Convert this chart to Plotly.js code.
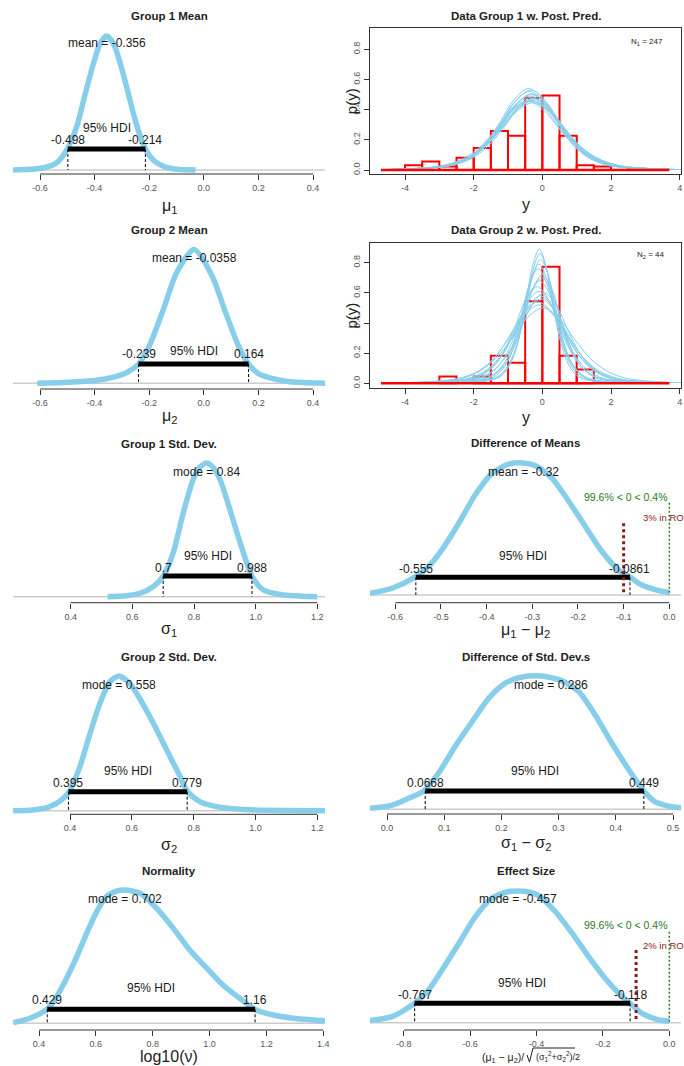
<!DOCTYPE html>
<html>
<head>
<meta charset="utf-8">
<script src="https://cdn.plot.ly/plotly-3.0.1.min.js"></script>
<style>
  html, body { margin: 0; padding: 0; background: #ffffff; }
  #plot { width: 684px; height: 1066px; }
</style>
</head>
<body>
<div id="plot"></div>
<script>
// ---------------- posterior summaries ----------------
const mu1Mean = -0.356,  mu1Hdi = [-0.498, -0.214];
const mu2Mean = -0.0358, mu2Hdi = [-0.239, 0.164];
const sig1Mode = 0.84,   sig1Hdi = [0.7, 0.988];
const sig2Mode = 0.558,  sig2Hdi = [0.395, 0.779];
const diffMMean = -0.32, diffMHdi = [-0.555, -0.0861];
const diffSMode = 0.286, diffSHdi = [0.0668, 0.449];
const nuMode = 0.702,    nuHdi = [0.429, 1.16];
const effMode = -0.457,  effHdi = [-0.767, -0.118];

const diffMRope = [-0.1, 0.1], diffMPct = [99.6, 0.4], diffMInRope = 3;
const effRope = [-0.1, 0.1],   effPct = [99.6, 0.4],   effInRope = 2;
const compVal = 0;

// ---------------- posterior density curves ----------------
const mu1X = [-0.70, -0.64, -0.59, -0.54, -0.50, -0.465, -0.435, -0.405, -0.38, -0.356, -0.33, -0.305, -0.28, -0.25, -0.214, -0.18, -0.14, -0.10, -0.03];
const mu1Y = [0.00, 0.03, 0.08, 0.29, 0.86, 1.80, 3.10, 4.35, 5.20, 5.51, 5.18, 4.35, 3.30, 2.00, 0.86, 0.36, 0.12, 0.03, 0.00];

const mu2X = [-0.61, -0.50, -0.40, -0.33, -0.28, -0.239, -0.20, -0.15, -0.10, -0.036, 0.03, 0.08, 0.125, 0.164, 0.20, 0.25, 0.30, 0.36, 0.45];
const mu2Y = [0.00, 0.03, 0.08, 0.18, 0.32, 0.56, 1.08, 2.10, 3.20, 3.88, 3.12, 2.05, 1.12, 0.56, 0.28, 0.14, 0.06, 0.02, 0.00];

const sig1X = [0.52, 0.58, 0.625, 0.668, 0.70, 0.732, 0.765, 0.797, 0.818, 0.84, 0.862, 0.885, 0.917, 0.95, 0.988, 1.025, 1.09, 1.15, 1.20];
const sig1Y = [0.00, 0.04, 0.14, 0.41, 0.84, 1.76, 3.40, 4.75, 5.25, 5.43, 5.25, 4.74, 3.52, 2.18, 0.84, 0.27, 0.07, 0.02, 0.00];

const diffMX = [-0.656, -0.607, -0.557, -0.527, -0.498, -0.461, -0.425, -0.388, -0.352, -0.32, -0.293, -0.257, -0.220, -0.184, -0.147, -0.111, -0.086, -0.060, -0.023, 0.0];
const diffMY = [0.04, 0.17, 0.45, 0.72, 1.14, 1.81, 2.53, 3.07, 3.30, 3.33, 3.26, 2.95, 2.36, 1.73, 1.09, 0.63, 0.45, 0.25, 0.11, 0.06];

const sig2X = [0.216, 0.28, 0.335, 0.373, 0.397, 0.432, 0.465, 0.497, 0.529, 0.558, 0.593, 0.625, 0.67, 0.713, 0.751, 0.781, 0.82, 0.874, 0.95, 1.04, 1.225];
const sig2Y = [0.00, 0.02, 0.12, 0.32, 0.56, 1.31, 2.30, 3.19, 3.83, 4.00, 3.78, 3.34, 2.59, 1.80, 1.11, 0.56, 0.27, 0.12, 0.04, 0.01, 0.00];

const diffSX = [-0.03, 0.009, 0.038, 0.064, 0.090, 0.119, 0.149, 0.178, 0.207, 0.236, 0.271, 0.306, 0.335, 0.364, 0.393, 0.423, 0.449, 0.469, 0.498, 0.52];
const diffSY = [0.03, 0.13, 0.34, 0.56, 1.11, 1.93, 2.70, 3.42, 3.88, 4.07, 4.10, 3.95, 3.62, 2.90, 2.03, 1.21, 0.56, 0.23, 0.08, 0.04];

const nuX = [0.31, 0.368, 0.427, 0.462, 0.497, 0.533, 0.568, 0.603, 0.638, 0.67, 0.702, 0.755, 0.814, 0.872, 0.931, 0.99, 1.048, 1.107, 1.16, 1.224, 1.294, 1.406];
const nuY = [0.01, 0.08, 0.22, 0.42, 0.71, 1.05, 1.42, 1.76, 2.00, 2.08, 2.10, 2.05, 1.81, 1.50, 1.15, 0.87, 0.60, 0.39, 0.22, 0.13, 0.08, 0.04];

const effX = [-0.902, -0.835, -0.767, -0.725, -0.684, -0.634, -0.584, -0.534, -0.484, -0.457, -0.43, -0.393, -0.343, -0.293, -0.243, -0.193, -0.142, -0.118, -0.082, -0.032, 0.0];
const effY = [0.04, 0.11, 0.355, 0.60, 0.97, 1.45, 1.94, 2.28, 2.40, 2.41, 2.40, 2.32, 2.03, 1.64, 1.21, 0.81, 0.48, 0.355, 0.17, 0.05, 0.03];

// ---------------- data histograms ----------------
const binWidth = 0.5;
const g1BinLeft = [-4, -3.5, -3, -2.5, -2, -1.5, -1, -0.5, 0, 0.5, 1, 1.5, 2.5];
const g1Dens    = [0.032, 0.057, 0.024, 0.081, 0.146, 0.259, 0.227, 0.478, 0.494, 0.227, 0.032, 0.024, 0.008];
const g2BinLeft = [-3, -2, -1.5, -1, -0.5, 0, 0.5, 1];
const g2Dens    = [0.045, 0.045, 0.182, 0.136, 0.545, 0.773, 0.182, 0.091];
const histSpan  = [-4.7, 3.7];
const g1N = 247, g2N = 44;

// ---------------- posterior predictive curves ----------------
const g1PredX = [
  [-4.40,-3.05,-2.60,-2.15,-1.70,-1.25,-0.80,-0.35,0.10,0.55,1.00,1.45,1.90,2.35,3.70],
  [-4.25,-2.96,-2.53,-2.10,-1.67,-1.24,-0.81,-0.38,0.05,0.48,0.91,1.34,1.77,2.20,3.49],
  [-4.49,-3.09,-2.63,-2.16,-1.70,-1.23,-0.77,-0.30,0.17,0.63,1.10,1.56,2.03,2.49,3.89],
  [-4.18,-2.92,-2.50,-2.08,-1.66,-1.24,-0.82,-0.40,0.02,0.44,0.86,1.28,1.70,2.12,3.38],
  [-4.60,-3.16,-2.68,-2.20,-1.72,-1.24,-0.76,-0.28,0.20,0.68,1.16,1.64,2.12,2.60,4.04],
  [-4.29,-2.97,-2.53,-2.09,-1.65,-1.21,-0.77,-0.33,0.11,0.55,0.99,1.43,1.87,2.31,3.63],
  [-4.30,-2.95,-2.50,-2.05,-1.60,-1.15,-0.70,-0.25,0.20,0.65,1.10,1.55,2.00,2.45,3.80],
  [-4.65,-3.24,-2.77,-2.30,-1.83,-1.36,-0.89,-0.42,0.05,0.52,0.99,1.46,1.93,2.40,3.81],
  [-4.46,-3.09,-2.64,-2.18,-1.73,-1.27,-0.82,-0.36,0.10,0.55,1.01,1.46,1.92,2.37,3.74],
  [-4.23,-2.92,-2.49,-2.05,-1.62,-1.18,-0.75,-0.31,0.13,0.56,1.00,1.43,1.87,2.30,3.61],
  [-4.41,-3.03,-2.57,-2.11,-1.65,-1.19,-0.73,-0.27,0.19,0.65,1.11,1.57,2.03,2.49,3.87],
  [-4.38,-3.04,-2.60,-2.15,-1.71,-1.26,-0.82,-0.37,0.08,0.52,0.97,1.41,1.86,2.30,3.64],
  [-4.17,-2.89,-2.47,-2.04,-1.62,-1.19,-0.77,-0.34,0.09,0.51,0.94,1.36,1.79,2.21,3.49],
  [-4.57,-3.14,-2.67,-2.19,-1.72,-1.24,-0.77,-0.29,0.19,0.66,1.14,1.61,2.09,2.56,3.99]
];
const g1PredY = [
  [0.003,0.020,0.039,0.080,0.157,0.280,0.416,0.480,0.416,0.280,0.157,0.080,0.039,0.020,0.003],
  [0.003,0.021,0.043,0.087,0.171,0.303,0.451,0.520,0.451,0.303,0.171,0.087,0.043,0.021,0.003],
  [0.003,0.019,0.038,0.077,0.151,0.268,0.399,0.460,0.399,0.268,0.151,0.077,0.038,0.019,0.003],
  [0.003,0.022,0.044,0.090,0.177,0.315,0.468,0.540,0.468,0.315,0.177,0.090,0.044,0.022,0.003],
  [0.003,0.018,0.036,0.074,0.146,0.259,0.386,0.445,0.386,0.259,0.146,0.074,0.036,0.018,0.003],
  [0.003,0.021,0.041,0.084,0.164,0.292,0.434,0.500,0.434,0.292,0.164,0.084,0.041,0.021,0.003],
  [0.003,0.019,0.039,0.078,0.154,0.274,0.407,0.470,0.407,0.274,0.154,0.078,0.039,0.019,0.003],
  [0.003,0.019,0.037,0.076,0.149,0.265,0.394,0.455,0.394,0.265,0.149,0.076,0.037,0.019,0.003],
  [0.003,0.020,0.040,0.082,0.161,0.286,0.425,0.490,0.425,0.286,0.161,0.082,0.040,0.020,0.003],
  [0.003,0.021,0.041,0.084,0.166,0.294,0.438,0.505,0.438,0.294,0.166,0.084,0.041,0.021,0.003],
  [0.003,0.019,0.039,0.079,0.156,0.277,0.412,0.475,0.412,0.277,0.156,0.079,0.039,0.019,0.003],
  [0.003,0.019,0.038,0.078,0.153,0.271,0.403,0.465,0.403,0.271,0.153,0.078,0.038,0.019,0.003],
  [0.003,0.022,0.043,0.089,0.174,0.309,0.460,0.530,0.460,0.309,0.174,0.089,0.043,0.022,0.003],
  [0.003,0.019,0.037,0.076,0.149,0.265,0.394,0.455,0.394,0.265,0.149,0.076,0.037,0.019,0.003]
];
const g2PredX = [
  [-1.89,-1.29,-1.09,-0.89,-0.69,-0.49,-0.29,-0.09,0.11,0.31,0.51,0.71,0.91,1.11,1.71],
  [-2.08,-1.40,-1.18,-0.95,-0.73,-0.50,-0.28,-0.05,0.18,0.40,0.63,0.85,1.08,1.30,1.98],
  [-2.37,-1.62,-1.37,-1.12,-0.87,-0.62,-0.37,-0.12,0.13,0.38,0.63,0.88,1.13,1.38,2.13],
  [-2.48,-1.65,-1.38,-1.10,-0.83,-0.55,-0.28,0.00,0.28,0.55,0.83,1.10,1.38,1.65,2.48],
  [-2.78,-1.88,-1.58,-1.28,-0.98,-0.68,-0.38,-0.08,0.22,0.52,0.82,1.12,1.42,1.72,2.62],
  [-3.08,-2.10,-1.78,-1.45,-1.13,-0.80,-0.48,-0.15,0.18,0.50,0.83,1.15,1.48,1.80,2.78],
  [-3.10,-2.05,-1.70,-1.35,-1.00,-0.65,-0.30,0.05,0.40,0.75,1.10,1.45,1.80,2.15,3.20],
  [-3.55,-2.38,-1.99,-1.60,-1.21,-0.82,-0.43,-0.04,0.35,0.74,1.13,1.52,1.91,2.30,3.47],
  [-3.97,-2.68,-2.25,-1.82,-1.39,-0.96,-0.53,-0.10,0.33,0.76,1.19,1.62,2.05,2.48,3.77],
  [-4.12,-2.74,-2.28,-1.82,-1.36,-0.90,-0.44,0.02,0.48,0.94,1.40,1.86,2.32,2.78,4.16],
  [-1.96,-1.33,-1.12,-0.91,-0.70,-0.49,-0.28,-0.07,0.14,0.35,0.56,0.77,0.98,1.19,1.82],
  [-2.22,-1.51,-1.28,-1.04,-0.81,-0.57,-0.34,-0.10,0.14,0.37,0.61,0.84,1.08,1.31,2.02],
  [-2.59,-1.73,-1.45,-1.16,-0.88,-0.59,-0.31,-0.02,0.27,0.55,0.84,1.12,1.41,1.69,2.55],
  [-3.17,-2.15,-1.81,-1.47,-1.13,-0.79,-0.45,-0.11,0.23,0.57,0.91,1.25,1.59,1.93,2.95],
  [-3.39,-2.28,-1.91,-1.54,-1.17,-0.80,-0.43,-0.06,0.31,0.68,1.05,1.42,1.79,2.16,3.27],
  [-3.82,-2.59,-2.18,-1.77,-1.36,-0.95,-0.54,-0.13,0.28,0.69,1.10,1.51,1.92,2.33,3.56]
];
const g2PredY = [
  [0.005,0.036,0.073,0.149,0.292,0.519,0.772,0.890,0.772,0.519,0.292,0.149,0.073,0.036,0.005],
  [0.005,0.034,0.067,0.137,0.269,0.478,0.711,0.820,0.711,0.478,0.269,0.137,0.067,0.034,0.005],
  [0.005,0.031,0.062,0.127,0.249,0.443,0.659,0.760,0.659,0.443,0.249,0.127,0.062,0.031,0.005],
  [0.004,0.030,0.059,0.120,0.236,0.420,0.624,0.720,0.624,0.420,0.236,0.120,0.059,0.030,0.004],
  [0.004,0.028,0.056,0.114,0.223,0.396,0.590,0.680,0.590,0.396,0.223,0.114,0.056,0.028,0.004],
  [0.004,0.026,0.052,0.107,0.210,0.373,0.555,0.640,0.555,0.373,0.210,0.107,0.052,0.026,0.004],
  [0.004,0.025,0.049,0.100,0.197,0.350,0.520,0.600,0.520,0.350,0.197,0.100,0.049,0.025,0.004],
  [0.003,0.023,0.046,0.094,0.184,0.326,0.486,0.560,0.486,0.326,0.184,0.094,0.046,0.023,0.003],
  [0.003,0.021,0.043,0.087,0.171,0.303,0.451,0.520,0.451,0.303,0.171,0.087,0.043,0.021,0.003],
  [0.003,0.021,0.041,0.084,0.164,0.292,0.434,0.500,0.434,0.292,0.164,0.084,0.041,0.021,0.003],
  [0.005,0.035,0.071,0.144,0.282,0.501,0.746,0.860,0.746,0.501,0.282,0.144,0.071,0.035,0.005],
  [0.005,0.032,0.065,0.132,0.259,0.461,0.685,0.790,0.685,0.461,0.259,0.132,0.065,0.032,0.005],
  [0.004,0.029,0.057,0.117,0.230,0.408,0.607,0.700,0.607,0.408,0.230,0.117,0.057,0.029,0.004],
  [0.004,0.025,0.050,0.102,0.200,0.356,0.529,0.610,0.529,0.356,0.200,0.102,0.050,0.025,0.004],
  [0.003,0.024,0.048,0.097,0.190,0.338,0.503,0.580,0.503,0.338,0.190,0.097,0.048,0.024,0.003],
  [0.003,0.022,0.044,0.090,0.177,0.315,0.468,0.540,0.468,0.315,0.177,0.090,0.044,0.022,0.003]
];

// ---------------- axis ticks ----------------
const muTicks    = [-0.6, -0.4, -0.2, 0.0, 0.2, 0.4];
const sigTicks   = [0.4, 0.6, 0.8, 1.0, 1.2];
const diffMTicks = [-0.6, -0.5, -0.4, -0.3, -0.2, -0.1, 0.0];
const diffSTicks = [0.0, 0.1, 0.2, 0.3, 0.4, 0.5];
const nuTicks    = [0.4, 0.6, 0.8, 1.0, 1.2, 1.4];
const effTicks   = [-0.8, -0.6, -0.4, -0.2, 0.0];
const yTicks     = [-4, -2, 0, 2, 4];
const pTicks     = [0.0, 0.2, 0.4, 0.6, 0.8];

// ---------------- drawing ----------------
const W = 684, H = 1066;
const FONT = 'Liberation Sans, Arial, Helvetica, sans-serif';
const SKY = '#87ceeb';
const GREEN = '#2a7a22';
const DARKRED = '#8b1a1a';
const fx = p => p / W;
const fy = p => 1 - p / H;

const traces = [], shapes = [], annotations = [];
const layout = {
  width: W, height: H,
  margin: {l: 0, r: 0, t: 0, b: 0},
  paper_bgcolor: '#ffffff', plot_bgcolor: 'rgba(0,0,0,0)',
  showlegend: false, shapes, annotations
};

function label(xref, x, yPx, str, size, color, extra) {
  annotations.push(Object.assign({
    xref, yref: 'paper', x, y: fy(yPx), text: str, showarrow: false,
    xanchor: 'center', yanchor: 'middle',
    font: {family: FONT, size, color}
  }, extra || {}));
}
function hline(xref, x0, x1, yPx, color, width, dash) {
  shapes.push({type: 'line', xref, yref: 'paper', x0, x1, y0: fy(yPx), y1: fy(yPx),
               line: {color, width, dash: dash || 'solid'}});
}
function vline(xref, x, y0Px, y1Px, color, width, dash) {
  shapes.push({type: 'line', xref, yref: 'paper', x0: x, x1: x, y0: fy(y0Px), y1: fy(y1Px),
               line: {color, width, dash: dash || 'solid'}});
}
const fmt = v => String(v);

// a posterior panel: thick density curve, HDI bar, central tendency
function posteriorPanel(p) {
  const n = p.n, xa = 'x' + n, ya = 'y' + n;
  const t0 = p.ticks[0], t1 = p.ticks[p.ticks.length - 1];
  const sx = (p.tickPx[1] - p.tickPx[0]) / (t1 - t0);
  const xr = [t0 - (p.tickPx[0] - p.left) / sx, t1 + (p.right - p.tickPx[1]) / sx];
  const ymax = Math.max.apply(null, p.y);
  const sy = (p.base - p.peak) / ymax;
  const top = p.peak - 16;

  layout['xaxis' + n] = {
    domain: [fx(p.left), fx(p.right)], range: xr, anchor: ya,
    tickvals: p.ticks, ticktext: p.ticks.map(v => v.toFixed(1)),
    ticks: 'outside', ticklen: 5, tickwidth: 1, tickcolor: '#333',
    showline: false, showgrid: false, zeroline: false, fixedrange: true,
    tickfont: {family: FONT, size: 9, color: '#555'}
  };
  layout['yaxis' + n] = {
    domain: [fy(p.axis), fy(top)], range: [-(p.axis - p.base) / sy, (p.base - top) / sy],
    anchor: xa, visible: false, fixedrange: true
  };

  // zero line across the plotting region
  shapes.push({type: 'line', xref: 'paper', yref: ya, x0: fx(p.left), x1: fx(p.right),
               y0: 0, y1: 0, layer: 'below', line: {color: '#cccccc', width: 1.5}});
  // axis line spanning the labelled ticks
  hline(xa, t0, t1, p.axis, '#333', 1);

  traces.push({x: p.x, y: p.y, xaxis: xa, yaxis: ya, type: 'scatter', mode: 'lines',
               line: {color: SKY, width: 5.5, shape: 'spline', smoothing: 0.7}, hoverinfo: 'skip'});

  // HDI
  hline(xa, p.hdi[0], p.hdi[1], p.bar, '#000', 5);
  p.hdi.forEach(h => vline(xa, h, p.bar, p.base, '#000', 1, '3px,2px'));
  p.hdi.forEach(h => label(xa, h, p.hdiLab, fmt(h), 12, '#1a1a1a'));
  label(xa, (p.hdi[0] + p.hdi[1]) / 2, p.hdiText, '95% HDI', 12, '#1a1a1a');
  label(xa, p.stat, p.statY, p.statName + ' = ' + fmt(p.stat), 12, '#1a1a1a');

  label('paper', fx((p.left + p.right) / 2), p.titleY, '<b>' + p.title + '</b>', 11.5, '#222');
  if (p.xlab) label('paper', fx((p.left + p.right) / 2), p.xlabY, p.xlab, 16, '#222');

  if (p.rope) {
    vline(xa, compVal, p.cmpLine[0], p.cmpLine[1], GREEN, 1.5, '2px,2px');
    label(xa, compVal, p.cmpTextY,
          p.pct[0] + '% &lt; ' + compVal + ' &lt; ' + p.pct[1] + '%', 10.5, GREEN,
          {xanchor: 'right'});
    vline(xa, p.rope[0], p.ropeLine[0], p.ropeLine[1], DARKRED, 3, 'dot');
    label(xa, (p.rope[0] + p.rope[1]) / 2, p.ropeTextY, p.inRope + '% in ROPE', 9.5, DARKRED);
  }
}

// a data panel: histogram of the data with posterior predictive curves
function predictivePanel(p) {
  const n = p.n, xa = 'x' + n, ya = 'y' + n;
  const sx = (p.xTickPx[1] - p.xTickPx[0]) / (yTicks[yTicks.length - 1] - yTicks[0]);
  const xr = [yTicks[0] - (p.xTickPx[0] - p.left) / sx,
              yTicks[yTicks.length - 1] + (p.right - p.xTickPx[1]) / sx];
  const sy = (p.base - p.y08) / 0.8;
  const yr = [-(p.bottom - p.base) / sy, (p.base - p.top) / sy];
  const common = {
    ticks: 'outside', ticklen: 5, tickwidth: 1, tickcolor: '#333',
    showline: true, mirror: true, linecolor: '#333', linewidth: 1,
    showgrid: false, zeroline: false, fixedrange: true,
    tickfont: {family: FONT, size: 9, color: '#555'}
  };
  layout['xaxis' + n] = Object.assign({domain: [fx(p.left), fx(p.right)], range: xr, anchor: ya,
    tickvals: yTicks, ticktext: yTicks.map(String)}, common);
  layout['yaxis' + n] = Object.assign({domain: [fy(p.bottom), fy(p.top)], range: yr, anchor: xa,
    tickvals: pTicks, ticktext: pTicks.map(v => v.toFixed(1)), tickangle: -90}, common);

  p.predX.forEach((xs, i) => traces.push({
    x: xs, y: p.predY[i], xaxis: xa, yaxis: ya, type: 'scatter', mode: 'lines',
    line: {color: SKY, width: 1, shape: 'spline', smoothing: 1}, hoverinfo: 'skip'}));

  traces.push({
    x: p.bins.map(b => b + binWidth / 2), y: p.dens, width: binWidth,
    xaxis: xa, yaxis: ya, type: 'bar',
    marker: {color: 'rgba(0,0,0,0)', line: {color: '#ff0000', width: 2}}, hoverinfo: 'skip'});
  traces.push({x: histSpan, y: [0, 0], xaxis: xa, yaxis: ya, type: 'scatter', mode: 'lines',
               line: {color: '#ff0000', width: 2.5}, hoverinfo: 'skip'});

  const cx = fx((p.left + p.right) / 2);
  label('paper', cx, p.titleY, '<b>' + p.title + '</b>', 11.5, '#222');
  label('paper', cx, p.xlabY, 'y', 16, '#222');
  label('paper', fx(351), (p.top + p.bottom) / 2, 'p(y)', 15, '#222', {textangle: -90});
  label('paper', fx(p.nPos[0]), p.nPos[1], 'N<sub>' + p.k + '</sub> = ' + p.N, 8, '#222');
}

posteriorPanel({n: 1, x: mu1X, y: mu1Y, ticks: muTicks, tickPx: [40, 313], left: 13, right: 325,
  base: 170, peak: 36, axis: 174, bar: 149, hdiLab: 140, hdiText: 128, statY: 43, titleY: 16, xlabY: 206,
  hdi: mu1Hdi, stat: mu1Mean, statName: 'mean', title: 'Group 1 Mean', xlab: 'μ<sub>1</sub>'});

predictivePanel({n: 2, left: 370, right: 681, top: 28.3, bottom: 174, base: 170, y08: 49.3,
  xTickPx: [405, 679.7], predX: g1PredX, predY: g1PredY, bins: g1BinLeft, dens: g1Dens,
  title: 'Data Group 1 w. Post. Pred.', titleY: 16, xlabY: 205, nPos: [647, 42], k: 1, N: g1N});

posteriorPanel({n: 3, x: mu2X, y: mu2Y, ticks: muTicks, tickPx: [40, 313], left: 13, right: 325,
  base: 383.3, peak: 249.5, axis: 389, bar: 364, hdiLab: 354.3, hdiText: 351, statY: 257.7, titleY: 230, xlabY: 416,
  hdi: mu2Hdi, stat: mu2Mean, statName: 'mean', title: 'Group 2 Mean', xlab: 'μ<sub>2</sub>'});

predictivePanel({n: 4, left: 370, right: 681, top: 242.7, bottom: 388.3, base: 383.3, y08: 262.7,
  xTickPx: [405, 679.7], predX: g2PredX, predY: g2PredY, bins: g2BinLeft, dens: g2Dens,
  title: 'Data Group 2 w. Post. Pred.', titleY: 230, xlabY: 418, nPos: [650, 255], k: 2, N: g2N});

posteriorPanel({n: 5, x: sig1X, y: sig1Y, ticks: sigTicks, tickPx: [70.7, 317.3], left: 13, right: 325,
  base: 596.7, peak: 463, axis: 602.7, bar: 576, hdiLab: 568.3, hdiText: 556, statY: 471.7, titleY: 444.3, xlabY: 629,
  hdi: sig1Hdi, stat: sig1Mode, statName: 'mode', title: 'Group 1 Std. Dev.', xlab: 'σ<sub>1</sub>'});

posteriorPanel({n: 6, x: diffMX, y: diffMY, ticks: diffMTicks, tickPx: [395.3, 669.3], left: 370, right: 681,
  base: 595, peak: 463, axis: 602.7, bar: 577.3, hdiLab: 569, hdiText: 556, statY: 471.7, titleY: 443.3, xlabY: 630.7,
  hdi: diffMHdi, stat: diffMMean, statName: 'mean', title: 'Difference of Means',
  xlab: 'μ<sub>1</sub> − μ<sub>2</sub>',
  rope: diffMRope, pct: diffMPct, inRope: diffMInRope,
  cmpLine: [502.7, 595], cmpTextY: 496.7, ropeLine: [523.3, 594], ropeTextY: 517.3});

posteriorPanel({n: 7, x: sig2X, y: sig2Y, ticks: sigTicks, tickPx: [70, 317.3], left: 13, right: 325,
  base: 810.7, peak: 676, axis: 814.3, bar: 791.7, hdiLab: 782.7, hdiText: 770.7, statY: 685, titleY: 656.7, xlabY: 845,
  hdi: sig2Hdi, stat: sig2Mode, statName: 'mode', title: 'Group 2 Std. Dev.', xlab: 'σ<sub>2</sub>'});

posteriorPanel({n: 8, x: diffSX, y: diffSY, ticks: diffSTicks, tickPx: [387, 673], left: 370, right: 681,
  base: 809.3, peak: 676, axis: 814, bar: 791, hdiLab: 783.3, hdiText: 770.7, statY: 685, titleY: 656.7, xlabY: 843.3,
  hdi: diffSHdi, stat: diffSMode, statName: 'mode', title: 'Difference of Std. Dev.s',
  xlab: 'σ<sub>1</sub> − σ<sub>2</sub>'});

posteriorPanel({n: 9, x: nuX, y: nuY, ticks: nuTicks, tickPx: [39, 323.3], left: 13, right: 325,
  base: 1023.3, peak: 890, axis: 1030, bar: 1009.3, hdiLab: 1000, hdiText: 988.3, statY: 899.3, titleY: 870.7, xlabY: 1056,
  hdi: nuHdi, stat: nuMode, statName: 'mode', title: 'Normality', xlab: 'log10(ν)'});

posteriorPanel({n: 10, x: effX, y: effY, ticks: effTicks, tickPx: [403.7, 669.3], left: 370, right: 681,
  base: 1022.7, peak: 891, axis: 1030, bar: 1003.3, hdiLab: 995, hdiText: 982.7, statY: 899.3, titleY: 870.7,
  hdi: effHdi, stat: effMode, statName: 'mode', title: 'Effect Size',
  rope: effRope, pct: effPct, inRope: effInRope,
  cmpLine: [931.7, 1022], cmpTextY: 925, ropeLine: [950, 1021.7], ropeTextY: 945});

// effect-size axis label: numerator, radical sign and the pooled-sd term under it
label('paper', fx(526), 1058, '(μ<sub>1</sub> − μ<sub>2</sub>)/', 10.5, '#222', {xanchor: 'right'});
shapes.push({type: 'path', xref: 'paper', yref: 'paper', line: {color: '#222', width: 1},
  path: 'M ' + fx(527) + ',' + fy(1055) + ' L ' + fx(529.5) + ',' + fy(1062) +
        ' L ' + fx(533) + ',' + fy(1048) + ' L ' + fx(575) + ',' + fy(1048)});
label('paper', fx(534), 1056.5, '(σ<sub>1</sub><sup>2</sup>+σ<sub>2</sub><sup>2</sup>)/2', 9, '#222', {xanchor: 'left'});

Plotly.newPlot('plot', traces, layout, {staticPlot: true, displayModeBar: false});
</script>
</body>
</html>
